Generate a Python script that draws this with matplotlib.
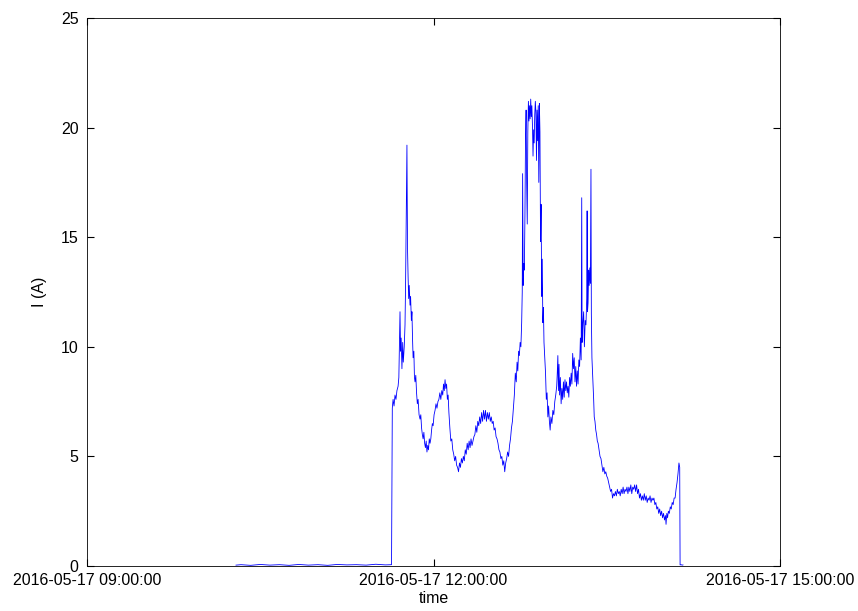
import numpy as np
import matplotlib
matplotlib.use('Agg')
import matplotlib.pyplot as plt
import matplotlib.dates as mdates

plt.rcParams['font.family'] = ['Liberation Sans', 'DejaVu Sans']

# minutes after 2016-05-17 09:00:00
t_min = [77.4, 80, 85, 90, 95, 100, 105, 110, 115, 120, 125, 130, 135, 140, 145, 150, 155, 158.2,
         158.6, 159.0, 159.5, 160.0, 160.5, 161.0, 161.6, 162.0, 162.4, 162.6, 162.9, 163.2, 163.6, 164.0,
         164.3, 164.8, 165.2, 165.5, 165.9, 166.2, 166.5, 166.8, 167.1, 167.4, 167.8, 168.1, 168.5, 168.8,
         169.1, 169.4, 169.8, 170.1, 170.4, 170.8, 171.2, 171.6, 172.0, 172.5, 173.0, 173.4, 173.8, 174.2,
         174.6, 175.0, 175.4, 175.8, 176.2, 176.6, 177.0, 177.4, 177.8, 178.2, 178.6, 179.0, 179.4, 179.8,
         180.3, 180.8, 181.3, 181.8, 182.3, 182.8, 183.3, 183.8, 184.3, 184.8, 185.2, 185.6, 186.0, 186.4,
         186.8, 187.2, 187.6, 188.0, 188.5, 189.0, 189.5, 190.0, 190.5, 191.0, 191.5, 192.0, 192.5, 193.0,
         193.5, 194.0, 194.5, 195.0, 195.5, 196.0, 196.5, 197.0, 197.5, 198.0, 198.5, 199.0, 199.5, 200.0,
         200.5, 201.0, 201.5, 202.0, 202.5, 203.0, 203.5, 204.0, 204.5, 205.0, 205.5, 206.0, 206.5, 207.0,
         207.5, 208.0, 208.5, 209.0, 209.5, 210.0, 210.5, 211.0, 211.5, 212.0, 212.5, 213.0, 213.5, 214.0,
         214.5, 215.0, 215.5, 216.0, 216.5, 217.0, 217.5, 218.0, 218.5, 219.0, 219.5, 220.0, 220.5, 221.0,
         221.5, 222.0, 222.5, 223.0, 223.4, 223.8, 224.2, 224.6, 225.0, 225.4, 225.8, 226.1, 226.3, 226.6,
         226.9, 227.2, 227.5, 227.8, 228.1, 228.4, 228.7, 229.0, 229.3, 229.6, 229.9, 230.2, 230.5, 230.8,
         231.1, 231.4, 231.7, 232.0, 232.3, 232.6, 232.9, 233.2, 233.5, 233.8, 234.1, 234.4, 234.7, 235.0,
         235.3, 235.6, 235.9, 236.2, 236.5, 236.8, 237.1, 237.4, 237.8, 238.2, 238.6, 239.0, 239.4, 239.8,
         240.2, 240.6, 241.0, 241.5, 242.0, 242.5, 243.0, 243.5, 244.0, 244.3, 244.6, 244.9, 245.2, 245.5,
         245.9, 246.3, 246.7, 247.1, 247.5, 247.9, 248.3, 248.7, 249.1, 249.5, 249.9, 250.3, 250.7, 251.1,
         251.5, 251.9, 252.3, 252.7, 253.1, 253.5, 253.9, 254.3, 254.7, 255.1, 255.5, 255.9, 256.3, 256.7,
         257.0, 257.2, 257.6, 258.0, 258.4, 258.8, 259.2, 259.6, 259.8, 260.0, 260.3, 260.6, 260.9, 261.2,
         261.5, 261.8, 262.0, 262.3, 262.6, 262.9, 263.2, 263.5, 263.9, 264.3, 264.7, 265.1, 265.5, 266.0,
         266.5, 267.0, 267.5, 268.0, 268.5, 269.0, 269.5, 270.0, 270.5, 271.0, 271.5, 272.0, 272.5, 273.0,
         273.5, 274.0, 274.5, 275.0, 275.5, 276.0, 276.5, 277.0, 277.5, 278.0, 278.5, 279.0, 279.5, 280.0,
         280.5, 281.0, 281.5, 282.0, 282.5, 283.0, 283.5, 284.0, 284.5, 285.0, 285.5, 286.0, 286.5, 287.0,
         287.5, 288.0, 288.5, 289.0, 289.5, 290.0, 290.5, 291.0, 291.5, 292.0, 292.5, 293.0, 293.5, 294.0,
         294.5, 295.0, 295.5, 296.0, 296.5, 297.0, 297.5, 298.0, 298.5, 299.0, 299.5, 300.0, 300.5, 300.8,
         301.2, 301.6, 302.0, 302.5, 303.0, 303.5, 304.0, 304.5, 305.0, 305.5, 306.0, 306.5, 307.0, 307.5,
         307.9, 308.1, 308.6, 309.2, 309.6]

current = [0.04, 0.06, 0.03, 0.07, 0.04, 0.06, 0.03, 0.07, 0.04, 0.06, 0.03, 0.07, 0.05, 0.06, 0.04, 0.08, 0.05, 0.06,
           7.2, 7.6, 7.3, 7.8, 7.6, 8.0, 8.2, 8.6, 10.5, 11.6, 9.8, 10.4, 9.0, 10.2,
           9.3, 10.0, 11.0, 12.9, 16.8, 19.2, 14.5, 13.2, 12.2, 12.8, 11.9, 12.3, 11.2, 11.6,
           10.4, 9.5, 9.8, 8.6, 8.4, 8.7, 7.9, 7.4, 7.6, 6.9, 6.7, 6.9, 6.3, 6.0,
           5.8, 6.1, 5.6, 5.4, 5.7, 5.2, 5.5, 5.3, 5.8, 5.6, 5.8, 6.2, 6.5, 6.4,
           6.9, 7.1, 7.4, 7.2, 7.5, 7.6, 7.9, 7.6, 8.0, 7.8, 8.3, 8.0, 8.5, 8.1,
           8.3, 7.6, 7.8, 7.0, 6.3, 5.7, 5.8, 5.3, 5.1, 4.8, 5.0, 4.6, 4.5, 4.3,
           4.7, 4.5, 4.9, 4.7, 5.0, 4.8, 5.3, 5.1, 5.6, 5.3, 5.7, 5.4, 5.8, 5.5,
           5.7, 5.9, 6.0, 6.4, 6.1, 6.6, 6.4, 6.8, 6.5, 7.0, 6.6, 7.1, 6.7, 7.1,
           6.6, 7.0, 6.7, 7.0, 6.6, 6.8, 6.5, 6.6, 6.2, 6.3, 5.9, 5.8, 5.6, 5.3,
           5.2, 4.9, 5.0, 4.6, 4.8, 4.3, 4.7, 4.9, 5.2, 5.0, 5.5, 5.8, 6.3, 6.6,
           7.2, 7.8, 8.8, 8.4, 9.3, 8.9, 9.8, 9.6, 10.2, 10.0, 11.1, 12.5, 17.9, 12.8,
           13.8, 13.5, 16.0, 19.5, 20.8, 17.5, 15.6, 19.8, 21.2, 20.3, 21.0, 20.4, 21.3, 20.5,
           21.0, 20.1, 18.7, 19.9, 19.3, 20.6, 21.2, 20.7, 18.5, 20.8, 19.4, 21.0, 17.5, 21.1,
           19.8, 14.8, 16.5, 12.3, 14.0, 11.1, 11.8, 10.2, 9.5, 8.8, 7.6, 7.9, 6.8, 7.3,
           6.6, 6.2, 6.8, 6.5, 7.1, 6.9, 7.5, 7.8, 8.2, 8.8, 9.6, 8.0, 9.2, 7.8,
           8.6, 7.4, 8.1, 7.6, 8.4, 7.7, 8.5, 8.0, 8.4, 7.9, 8.2, 7.7, 8.6, 8.2,
           8.8, 8.3, 9.7, 9.0, 9.5, 8.4, 9.1, 8.2, 8.9, 8.3, 9.4, 9.1, 10.4, 9.4,
           16.8, 10.2, 11.1, 11.6, 10.0, 11.2, 11.0, 12.2, 16.2, 11.6, 12.0, 13.5, 12.8, 13.6,
           12.9, 18.1, 11.5, 9.5, 8.9, 8.3, 7.6, 6.8, 6.6, 6.2, 6.0, 5.7, 5.6, 5.3,
           5.0, 4.9, 4.6, 4.3, 4.5, 4.2, 4.3, 4.1, 4.0, 3.8, 3.6, 3.4, 3.5, 3.1,
           3.3, 3.2, 3.4, 3.2, 3.5, 3.3, 3.4, 3.2, 3.5, 3.3, 3.6, 3.3, 3.5, 3.4,
           3.6, 3.3, 3.6, 3.4, 3.7, 3.3, 3.6, 3.5, 3.7, 3.4, 3.7, 3.3, 3.5, 3.1,
           3.3, 3.0, 3.2, 3.0, 3.3, 3.0, 3.2, 2.9, 3.1, 3.0, 3.2, 2.9, 3.1, 3.0,
           3.1, 2.8, 2.9, 2.6, 2.7, 2.4, 2.6, 2.3, 2.5, 2.2, 2.4, 2.1, 2.3, 1.9,
           2.4, 2.2, 2.5, 2.4, 2.7, 2.6, 2.9, 2.8, 3.1, 3.1, 3.5, 3.8, 4.2, 4.7,
           4.5, 0.05, 0.06, 0.04, 0.05]

start = np.datetime64('2016-05-17T09:00:00')
times = start + (np.array(t_min) * 60).astype('timedelta64[s]')

fig = plt.figure(figsize=(8.58, 6.11), dpi=100)
ax = fig.add_axes([87/858, 45/611, (780-87)/858, (566-18)/611])
ax.plot(times, current, color='#0000ff', linewidth=0.6)

ax.set_xlim(np.datetime64('2016-05-17T09:00:00'), np.datetime64('2016-05-17T15:00:00'))
ax.set_ylim(0, 25)
ax.set_xticks([np.datetime64('2016-05-17T09:00:00'), np.datetime64('2016-05-17T12:00:00'),
               np.datetime64('2016-05-17T15:00:00')])
ax.xaxis.set_major_formatter(mdates.DateFormatter('%Y-%m-%d %H:%M:%S'))
ax.set_yticks([0, 5, 10, 15, 20, 25])
ax.tick_params(direction='in', top=True, right=True, length=5, labelsize=11.5)
ax.tick_params(axis='x', pad=5)
ax.tick_params(axis='y', pad=6)
for s in ax.spines.values():
    s.set_linewidth(0.6)
ax.set_xlabel('time', fontsize=11.5, labelpad=2)
ax.set_ylabel('I (A)', fontsize=11.5, labelpad=10)

fig.savefig('out.png', dpi=100)
